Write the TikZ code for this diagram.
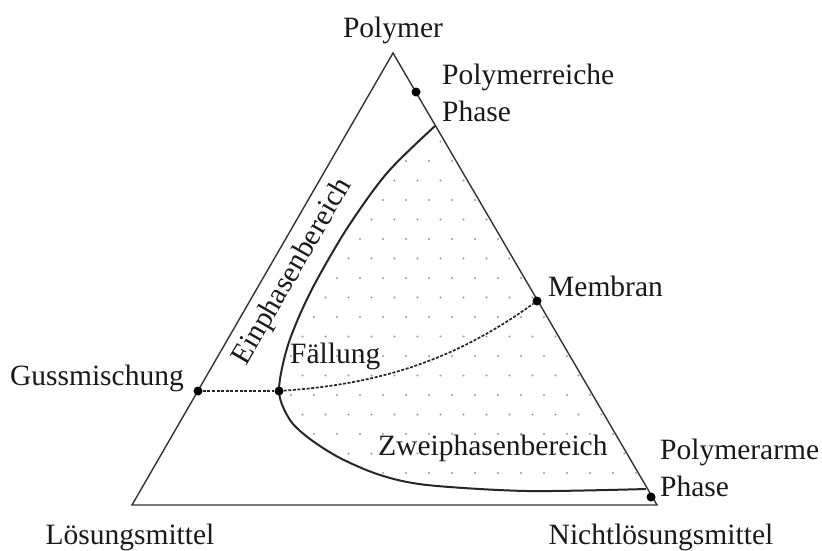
\documentclass[tikz,border=0pt]{standalone}
\usepackage{fontspec}
\setmainfont{Liberation Serif}
\begin{document}
\begin{tikzpicture}[x=1pt,y=-1pt,
  lbl/.style={font=\fontsize{29.5}{37}\selectfont, text=black!90, inner sep=0pt, align=left},
  pt/.style={circle, fill=black, inner sep=0pt, minimum size=9pt},
  edge/.style={line width=1.4pt, draw=black!80, line join=miter},
  binodal/.style={line width=2pt, draw=black!85},
  dashline/.style={line width=1.7pt, draw=black!85, dash pattern=on 3pt off 1.6pt},
  stip/.style={fill=black!40}]
\useasboundingbox (0,0) rectangle (822,550);
\coordinate (P) at (393,53);
\coordinate (L) at (132,505);
\coordinate (N) at (657,505);
% stipple in two-phase region
\begin{scope}
  \clip plot[smooth] coordinates {(435,126) (387,173) (346,230) (310,293) (288,345) (279,391) (290,420) (310,439) (340,458) (380,475) (427,485) (527,491) (646,489)} -- cycle;
  \foreach \j in {0,...,19} {
    \foreach \i in {0,...,17} {
      \fill[stip] ({268+\i*23+mod(\j,2)*11.5},{122+\j*19.5}) circle (1.1pt);
    }
  }
\end{scope}
% triangle
\draw[edge] (P) -- (L) -- (N) -- cycle;
% binodal curve
\draw[binodal] plot[smooth] coordinates {(435,126) (387,173) (346,230) (310,293) (288,345) (279,391) (290,420) (310,439) (340,458) (380,475) (427,485) (527,491) (646,489)};
% points
\node[pt] (dPR) at (416,92) {};
\node[pt] (dM) at (537,301) {};
\node[pt] (dG) at (198,391) {};
\node[pt] (dF) at (279,391) {};
\node[pt] (dPA) at (651,497) {};
% dashed path
\draw[dashline] (dG) -- (dF);
\draw[dashline] (dF) .. controls (380,384) and (455,360) .. (dM);
% labels
\node[lbl, anchor=base] (tP) at (393,37) {Polymer};
\node[lbl, anchor=base west] (tPR) at (442,121) {Polymerreiche\\Phase};
\node[lbl, anchor=base west] (tM) at (548,296) {Membran};
\node[lbl, anchor=base east] (tG) at (184,385) {Gussmischung};
\node[lbl, anchor=base west] (tF) at (290,363) {Fällung};
\node[lbl, anchor=base west] (tZ) at (378,455) {Zweiphasenbereich};
\node[lbl, anchor=base west] (tPA) at (660,496) {Polymerarme\\Phase};
\node[lbl, anchor=base] (tL) at (130,544) {Lösungsmittel};
\node[lbl, anchor=base] (tN) at (661,544) {Nichtlösungsmittel};
\node[lbl, rotate=60, anchor=center] (tE) at (293,272) {Einphasenbereich};
\end{tikzpicture}
\end{document}
